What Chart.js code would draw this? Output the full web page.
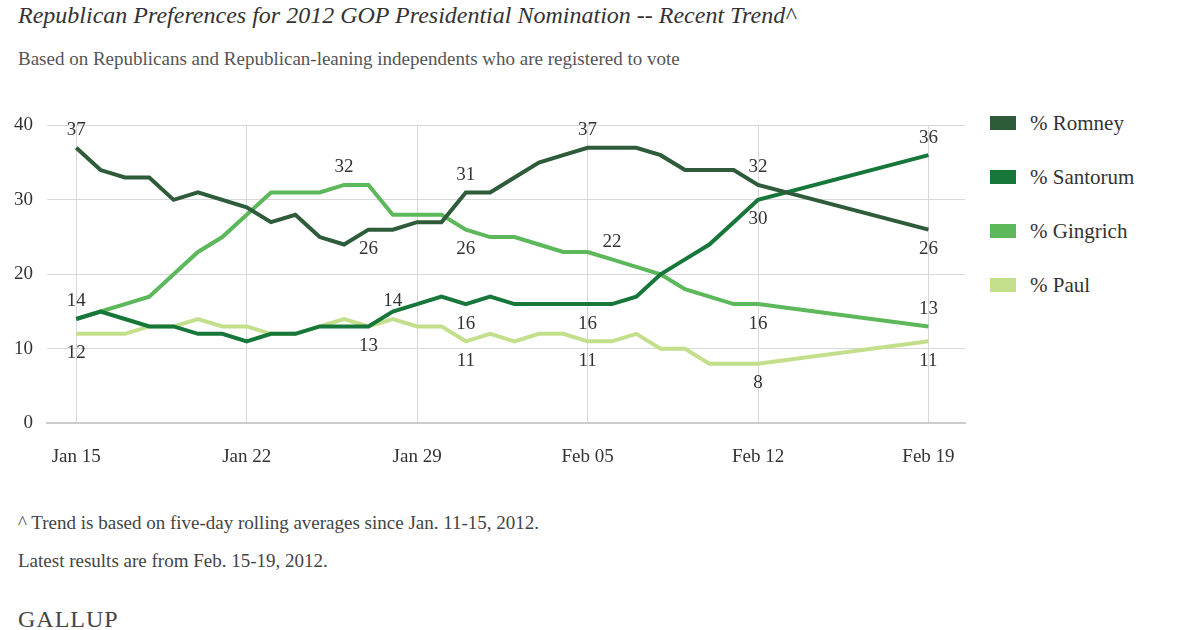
<!DOCTYPE html>
<html>
<head>
<meta charset="utf-8">
<script src="https://cdn.jsdelivr.net/npm/chart.js@4"></script>
<style>
  body { margin: 0; width: 1200px; height: 630px; background: #fff; font-family: "Liberation Serif", serif; color: #333; position: relative; overflow: hidden; }
  #title { position: absolute; left: 18px; top: 2px; font-size: 24px; font-style: italic; color: #333; }
  #sub { position: absolute; left: 18px; top: 48px; font-size: 19px; color: #555; }
  #wrap { position: absolute; left: 0; top: 100px; width: 980px; height: 390px; }
  #legend { position: absolute; left: 990px; top: 96px; font-size: 21px; color: #333; }
  #legend div { height: 54px; display: flex; align-items: center; }
  #legend span { display: inline-block; width: 26px; height: 14px; margin-right: 14px; }
  .note { position: absolute; left: 18px; font-size: 19px; color: #444; }
  #gallup { position: absolute; left: 18px; top: 606px; font-size: 24px; color: #444; letter-spacing: 1px; }
</style>
</head>
<body>
<div id="title">Republican Preferences for 2012 GOP Presidential Nomination -- Recent Trend^</div>
<div id="sub">Based on Republicans and Republican-leaning independents who are registered to vote</div>
<div id="wrap"><canvas id="c" width="980" height="390"></canvas></div>
<div id="legend"></div>
<div class="note" style="top:512px">^ Trend is based on five-day rolling averages since Jan. 11-15, 2012.</div>
<div class="note" style="top:550px">Latest results are from Feb. 15-19, 2012.</div>
<div id="gallup">GALLUP</div>
<script>
// days since Jan 15
const days = [0,1,2,3,4,5,6,7,8,9,10,11,12,13,14,15,16,17,18,19,20,21,22,23,24,25,26,27,28,35];
const romney    = [37,34,33,33,30,31,30,29,27,28,25,24,26,26,27,27,31,31,33,35,36,37,37,37,36,34,34,34,32,26];
const santorum  = [14,15,14,13,13,12,12,11,12,12,13,13,13,15,16,17,16,17,16,16,16,16,16,17,20,22,24,27,30,36];
const gingrich  = [14,15,16,17,20,23,25,28,31,31,31,32,32,28,28,28,26,25,25,24,23,23,22,21,20,18,17,16,16,13];
const paul      = [12,12,12,13,13,14,13,13,12,12,13,14,13,14,13,13,11,12,11,12,12,11,11,12,10,10,8,8,8,11];
const tickDays = [0,7,14,21,28,35];
const tickLabels = ['Jan 15','Jan 22','Jan 29','Feb 05','Feb 12','Feb 19'];
const seriesNames = ['% Romney','% Santorum','% Gingrich','% Paul'];
const seriesColors = ['#2e5c3a','#17773a','#5cb85a','#c3df8c'];
// labelled points: [index, 'above'|'below']
const romneyLabels   = [[0,'above'],[12,'below'],[16,'above'],[21,'above'],[28,'above'],[29,'below']];
const santorumLabels = [[12,'below'],[16,'below'],[21,'below'],[28,'below'],[29,'above']];
const gingrichLabels = [[0,'above'],[11,'above'],[16,'below'],[22,'above'],[28,'below'],[29,'above']];
const paulLabels     = [[0,'below'],[13,'above'],[16,'below'],[21,'below'],[28,'below'],[29,'below']];

const allValues = [romney, santorum, gingrich, paul];
const allLabels = [romneyLabels, santorumLabels, gingrichLabels, paulLabels];

document.getElementById('legend').innerHTML = seriesNames.map((n, i) =>
  '<div><span style="background:' + seriesColors[i] + '"></span>' + n + '</div>').join('');

const pointLabels = {
  id: 'pointLabels',
  afterDatasetsDraw(chart) {
    const ctx = chart.ctx;
    ctx.save();
    ctx.font = '19px "Liberation Serif", serif';
    ctx.fillStyle = '#333';
    ctx.textAlign = 'center';
    allLabels.forEach((list, s) => {
      const meta = chart.getDatasetMeta(s);
      list.forEach(([i, pos]) => {
        const p = meta.data[i];
        const v = allValues[s][i];
        if (pos === 'above') { ctx.textBaseline = 'bottom'; ctx.fillText(v, p.x, p.y - 8); }
        else { ctx.textBaseline = 'top'; ctx.fillText(v, p.x, p.y + 10); }
      });
    });
    ctx.restore();
  }
};

new Chart(document.getElementById('c'), {
  type: 'line',
  data: {
    datasets: allValues.map((vals, s) => ({
      label: seriesNames[s],
      data: vals.map((v, i) => ({ x: days[i], y: v })),
      borderColor: seriesColors[s],
      borderWidth: 4,
      pointRadius: 0,
      tension: 0
    }))
  },
  options: {
    responsive: false,
    animation: false,
    layout: { padding: { top: 18, right: 15 } },
    plugins: { legend: { display: false }, tooltip: { enabled: false } },
    scales: {
      x: {
        type: 'linear', min: -1.2, max: 36.5,
        afterBuildTicks: (ax) => { ax.ticks = tickDays.map(v => ({ value: v })); },
        ticks: { callback: (v) => tickLabels[tickDays.indexOf(v)], color: '#333', padding: 22,
                 font: { family: '"Liberation Serif", serif', size: 19 } },
        grid: { color: '#d8d8d8', drawTicks: false },
        border: { color: '#ccc', width: 2 }
      },
      y: {
        min: 0, max: 40,
        ticks: { stepSize: 10, color: '#333', padding: 14,
                 font: { family: '"Liberation Serif", serif', size: 19 } },
        grid: { color: '#d8d8d8', drawTicks: false },
        border: { display: false }
      }
    }
  },
  plugins: [pointLabels]
});
</script>
</body>
</html>
